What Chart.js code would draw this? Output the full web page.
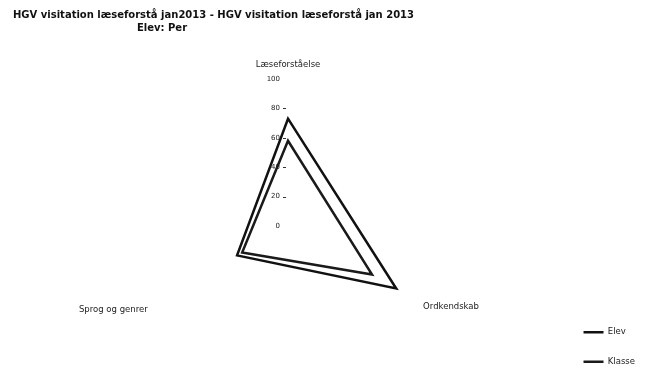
<!DOCTYPE html>
<html>
<head>
<meta charset="utf-8">
<script src="https://cdn.jsdelivr.net/npm/chart.js@4/dist/chart.umd.min.js"></script>
<style>
  html, body { margin: 0; padding: 0; background: #fff; }
  #wrap { position: relative; width: 645px; height: 371px; overflow: hidden; }
</style>
</head>
<body>
<div id="wrap"><canvas id="c" width="645" height="371"></canvas></div>
<script>
// ---- data ----
const categories = ['Læseforståelse', 'Ordkendskab', 'Sprog og genrer'];
const elevValues = [73, 85, 40];
const klasseValues = [58, 66, 36];
const seriesNames = ['Elev', 'Klasse'];
const titleLines = ['HGV visitation læseforstå jan2013 - HGV visitation læseforstå jan 2013', 'Elev: Per'];
const tickValues = [0, 20, 40, 60, 80, 100];

const FONT = "'DejaVu Sans', Verdana, sans-serif";

// fixed placement of the radial scale (center and radius)
const SCALE_CX = 288, SCALE_CY = 226, SCALE_R = 147;

const titlePlugin = {
  id: 'titleText',
  afterDraw(chart) {
    const ctx = chart.ctx;
    ctx.save();
    ctx.fillStyle = '#111';
    ctx.font = 'bold 10px ' + FONT;
    ctx.textBaseline = 'middle';
    ctx.textAlign = 'left';
    ctx.fillText(titleLines[0], 13, 15);
    ctx.fillText(titleLines[1], 137, 28);
    ctx.restore();
  }
};

const tickPlugin = {
  id: 'tickText',
  beforeDatasetsDraw(chart) {
    const s = chart.scales.r;
    const ctx = chart.ctx;
    ctx.save();
    ctx.fillStyle = '#222';
    ctx.strokeStyle = '#333';
    ctx.lineWidth = 1;
    ctx.font = '7px ' + FONT;
    ctx.textAlign = 'right';
    ctx.textBaseline = 'middle';
    tickValues.forEach(v => {
      const y = s.yCenter - s.getDistanceFromCenterForValue(v);
      ctx.fillText(String(v), s.xCenter - 8, y);
      if (v !== 0 && v !== 100) {
        ctx.beginPath();
        ctx.moveTo(s.xCenter - 5, Math.round(y) + 0.5);
        ctx.lineTo(s.xCenter - 2, Math.round(y) + 0.5);
        ctx.stroke();
      }
    });
    ctx.restore();
  }
};

new Chart(document.getElementById('c'), {
  type: 'radar',
  data: {
    labels: categories,
    datasets: [
      { label: seriesNames[0], data: elevValues, borderColor: '#111', backgroundColor: '#111', borderWidth: 2.5, fill: false, pointRadius: 0, pointHoverRadius: 0 },
      { label: seriesNames[1], data: klasseValues, borderColor: '#1a1a1a', backgroundColor: '#1a1a1a', borderWidth: 2.5, fill: false, pointRadius: 0, pointHoverRadius: 0 }
    ]
  },
  options: {
    responsive: false,
    devicePixelRatio: 1,
    animation: false,
    layout: { padding: { top: 40, right: 0, bottom: -16, left: 0 } },
    plugins: {
      title: { display: false },
      tooltip: { enabled: false },
      legend: {
        display: true,
        position: 'right',
        align: 'end',
        labels: {
          usePointStyle: true,
          pointStyle: 'line',
          pointStyleWidth: 20,
          boxHeight: 8,
          padding: 21,
          color: '#222',
          font: { family: FONT, size: 8.5 }
        }
      }
    },
    scales: {
      r: {
        min: 0,
        max: 100,
        beginAtZero: true,
        ticks: { display: false, stepSize: 20 },
        grid: { display: false },
        angleLines: { display: false },
        pointLabels: {
          color: '#222',
          font: { family: FONT, size: 8.5, lineHeight: 0.6 },
          padding: (ctx) => [12, 9, 15][ctx.index]
        },
        beforeFit(scale) {
          scale.setCenterPoint = function () {
            this.xCenter = SCALE_CX;
            this.yCenter = SCALE_CY;
            this.drawingArea = SCALE_R;
          };
        }
      }
    }
  },
  plugins: [titlePlugin, tickPlugin]
});
</script>
</body>
</html>
